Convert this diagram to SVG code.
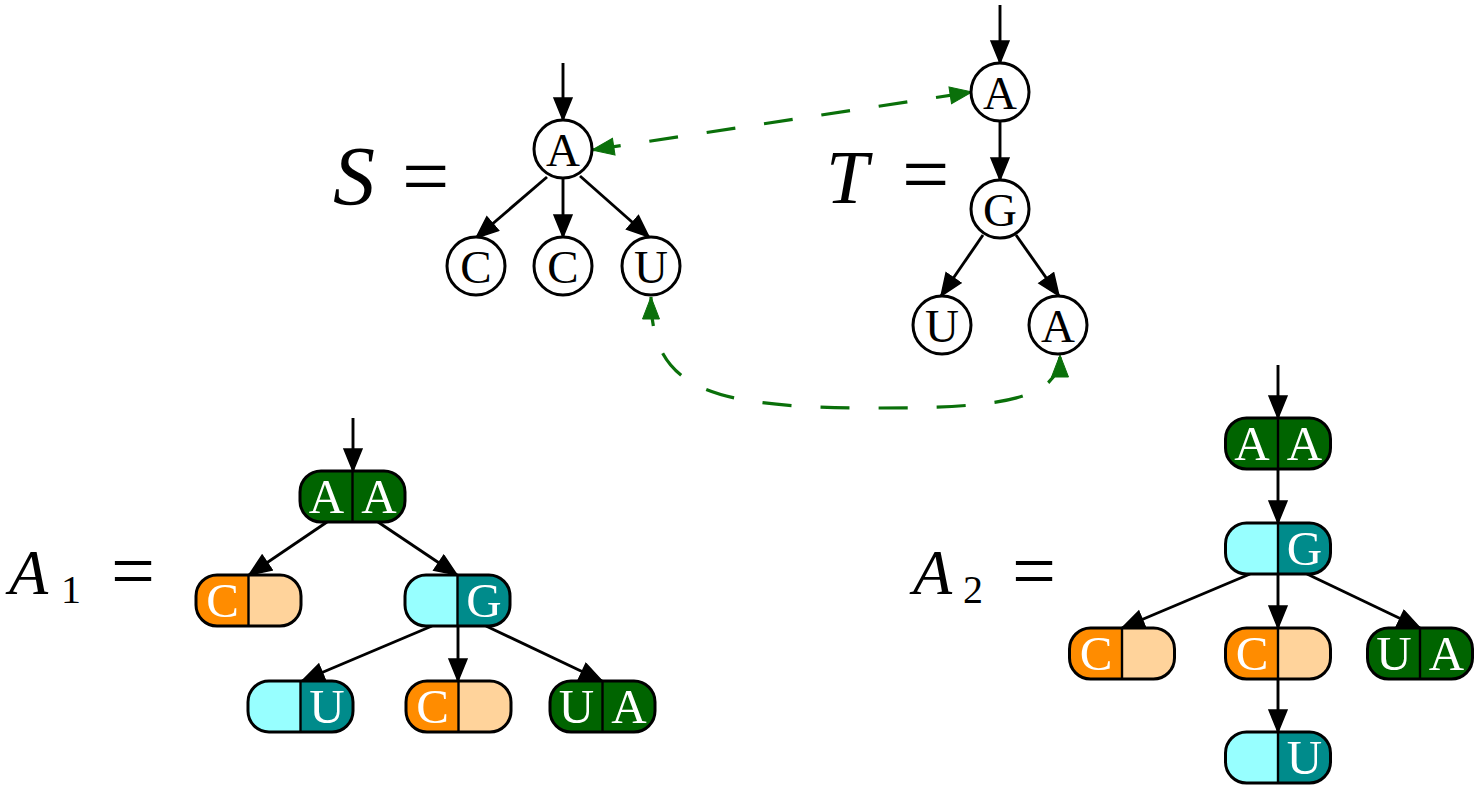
<svg xmlns="http://www.w3.org/2000/svg" xmlns:xlink="http://www.w3.org/1999/xlink" width="1474" height="785" viewBox="0 0 1474 785">
  <style>
    .lbl { font-family: "Liberation Serif", "Times New Roman", serif; fill: #000; }
    .it { font-style: italic; }
    .circ { fill: #fff; stroke: #000; stroke-width: 3; }
    .ctext { font-family: "Liberation Serif", "Times New Roman", serif; font-size: 47px; fill: #000; text-anchor: middle; }
    .ntext { font-family: "Liberation Serif", "Times New Roman", serif; font-size: 49px; fill: #fff; text-anchor: middle; }
    .outline { fill: none; stroke: #000; stroke-width: 3; }
    .edge { fill: none; stroke: #000; stroke-width: 2.9; marker-end: url(#arrow); }
    .link { fill: none; stroke: #0a700a; stroke-width: 3.2; stroke-dasharray: 29 29; marker-start: url(#garrow); marker-end: url(#garrow); }
    .dg { fill: #006400; }
    .or { fill: #ff8c00; }
    .pe { fill: #ffd39b; }
    .cy { fill: #97ffff; }
    .tl { fill: #008b8b; }
  </style>
  <defs>
    <marker id="arrow" markerUnits="userSpaceOnUse" viewBox="0 0 26 22" markerWidth="26" markerHeight="22" refX="23" refY="10" orient="auto">
      <path d="M1,1 L23,10 L1,19 Z" fill="#000" stroke="#000" stroke-width="1.5" stroke-linejoin="miter"/>
    </marker>
    <marker id="garrow" markerUnits="userSpaceOnUse" viewBox="0 0 26 22" markerWidth="26" markerHeight="22" refX="23" refY="10" orient="auto-start-reverse">
      <path d="M1,1.5 L23,10 L1,18.5 Z" fill="#0a700a" stroke="#0a700a" stroke-width="1"/>
    </marker>
    <!-- split pill: 105 x 51, corner radius 21 -->
    <path id="halfL" d="M21,0 H52.5 V51 H21 A21,21 0 0 1 0,30 V21 A21,21 0 0 1 21,0 Z"/>
    <path id="halfR" d="M52.5,0 H84 A21,21 0 0 1 105,21 V30 A21,21 0 0 1 84,51 H52.5 Z"/>
    <g id="pill">
      <rect x="0" y="0" width="105" height="51" rx="21" ry="21" class="outline"/>
      <line x1="52.5" y1="0" x2="52.5" y2="51" stroke="#000" stroke-width="2.4"/>
    </g>
  </defs>

  <rect width="1474" height="785" fill="#fff"/>

  <!-- labels -->
  <text class="lbl" x="333" y="205" font-size="84"><tspan class="it">S</tspan><tspan x="402">=</tspan></text>
  <text class="lbl" x="826" y="203" font-size="84"><tspan class="it" font-size="76">T</tspan><tspan x="902">=</tspan></text>
  <text class="lbl" x="9" y="594" font-size="64"><tspan class="it">A</tspan><tspan x="61" y="603" font-size="40">1</tspan><tspan x="111" y="597" font-size="78">=</tspan></text>
  <text class="lbl" x="913" y="594" font-size="64"><tspan class="it">A</tspan><tspan x="963" y="603" font-size="40">2</tspan><tspan x="1012" y="597" font-size="78">=</tspan></text>

  <!-- connectors -->
  <g id="connectors">
    <path class="edge" d="M563,63 L563,120"/>
    <path class="edge" d="M547,177 L476,238"/>
    <path class="edge" d="M563,178 L563,237"/>
    <path class="edge" d="M580,176 L649,237"/>

    <path class="edge" d="M1000,5 L1000,63"/>
    <path class="edge" d="M1000,121 L1000,180"/>
    <path class="edge" d="M983,235 L941,296"/>
    <path class="edge" d="M1016,235 L1059,296"/>

    <path class="edge" d="M353,418 L353,471"/>
    <path class="edge" d="M327,522 L249,575"/>
    <path class="edge" d="M378,522 L457,575"/>
    <path class="edge" d="M432,626 L302,681"/>
    <path class="edge" d="M458,626 L458,681"/>
    <path class="edge" d="M486,626 L602,681"/>

    <path class="edge" d="M1278,365 L1278,418"/>
    <path class="edge" d="M1278,469 L1278,523"/>
    <path class="edge" d="M1250,574 L1122,628"/>
    <path class="edge" d="M1278,574 L1278,628"/>
    <path class="edge" d="M1307,574 L1420,628"/>
    <path class="edge" d="M1278,679 L1278,732"/>

    <path class="link" d="M592,150 L972,92"/>
    <path class="link" d="M651,297 C651,390 710,408 877,408 C1000,408 1060,400 1060,355"/>
  </g>

  <!-- tree S -->
  <g id="s-a"><circle class="circ" cx="563" cy="149" r="29"/><text class="ctext" x="563" y="166">A</text></g>
  <g id="s-c1"><circle class="circ" cx="476" cy="266" r="29"/><text class="ctext" x="476" y="283">C</text></g>
  <g id="s-c2"><circle class="circ" cx="563" cy="266" r="29"/><text class="ctext" x="563" y="283">C</text></g>
  <g id="s-u"><circle class="circ" cx="651" cy="266" r="29"/><text class="ctext" x="651" y="283">U</text></g>

  <!-- tree T -->
  <g id="t-a"><circle class="circ" cx="1000" cy="92" r="29"/><text class="ctext" x="1000" y="109">A</text></g>
  <g id="t-g"><circle class="circ" cx="1000" cy="209" r="29"/><text class="ctext" x="1000" y="226">G</text></g>
  <g id="t-u"><circle class="circ" cx="942" cy="325" r="29"/><text class="ctext" x="942" y="342">U</text></g>
  <g id="t-a2"><circle class="circ" cx="1058" cy="325" r="29"/><text class="ctext" x="1058" y="342">A</text></g>

  <!-- alignment A1 -->
  <g id="a1-aa" transform="translate(300,471)"><use xlink:href="#halfL" class="dg"/><use xlink:href="#halfR" class="dg"/><use xlink:href="#pill"/><text class="ntext" x="26.5" y="42">A</text><text class="ntext" x="79" y="42">A</text></g>
  <g id="a1-c" transform="translate(196,575)"><use xlink:href="#halfL" class="or"/><use xlink:href="#halfR" class="pe"/><use xlink:href="#pill"/><text class="ntext" x="26.5" y="42">C</text></g>
  <g id="a1-g" transform="translate(405,575)"><use xlink:href="#halfL" class="cy"/><use xlink:href="#halfR" class="tl"/><use xlink:href="#pill"/><text class="ntext" x="79" y="42">G</text></g>
  <g id="a1-u" transform="translate(248,681)"><use xlink:href="#halfL" class="cy"/><use xlink:href="#halfR" class="tl"/><use xlink:href="#pill"/><text class="ntext" x="79" y="42">U</text></g>
  <g id="a1-c2" transform="translate(406,681)"><use xlink:href="#halfL" class="or"/><use xlink:href="#halfR" class="pe"/><use xlink:href="#pill"/><text class="ntext" x="26.5" y="42">C</text></g>
  <g id="a1-ua" transform="translate(550,681)"><use xlink:href="#halfL" class="dg"/><use xlink:href="#halfR" class="dg"/><use xlink:href="#pill"/><text class="ntext" x="26.5" y="42">U</text><text class="ntext" x="79" y="42">A</text></g>

  <!-- alignment A2 -->
  <g id="a2-aa" transform="translate(1225.5,418)"><use xlink:href="#halfL" class="dg"/><use xlink:href="#halfR" class="dg"/><use xlink:href="#pill"/><text class="ntext" x="26.5" y="42">A</text><text class="ntext" x="79" y="42">A</text></g>
  <g id="a2-g" transform="translate(1225.5,523)"><use xlink:href="#halfL" class="cy"/><use xlink:href="#halfR" class="tl"/><use xlink:href="#pill"/><text class="ntext" x="79" y="42">G</text></g>
  <g id="a2-c" transform="translate(1069.5,628)"><use xlink:href="#halfL" class="or"/><use xlink:href="#halfR" class="pe"/><use xlink:href="#pill"/><text class="ntext" x="26.5" y="42">C</text></g>
  <g id="a2-c2" transform="translate(1225.5,628)"><use xlink:href="#halfL" class="or"/><use xlink:href="#halfR" class="pe"/><use xlink:href="#pill"/><text class="ntext" x="26.5" y="42">C</text></g>
  <g id="a2-ua" transform="translate(1367.5,628)"><use xlink:href="#halfL" class="dg"/><use xlink:href="#halfR" class="dg"/><use xlink:href="#pill"/><text class="ntext" x="26.5" y="42">U</text><text class="ntext" x="79" y="42">A</text></g>
  <g id="a2-u" transform="translate(1225.5,732)"><use xlink:href="#halfL" class="cy"/><use xlink:href="#halfR" class="tl"/><use xlink:href="#pill"/><text class="ntext" x="79" y="42">U</text></g>
</svg>
